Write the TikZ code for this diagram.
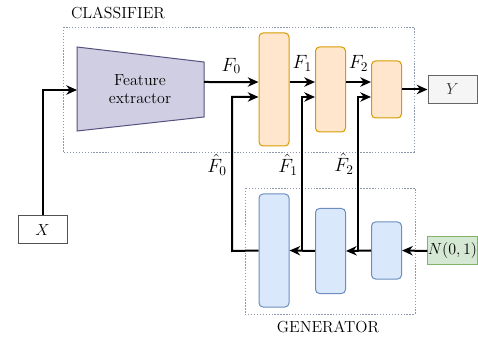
\documentclass[tikz,border=0pt]{standalone}
\usepackage{amsmath}
\usepackage{tikz}
\usetikzlibrary{arrows.meta}
\usetikzlibrary{positioning}

\definecolor{frame}{RGB}{140,152,175}
\definecolor{orangefill}{RGB}{255,230,204}
\definecolor{orangeline}{RGB}{215,155,0}
\definecolor{bluefill}{RGB}{218,232,252}
\definecolor{blueline}{RGB}{108,142,191}
\definecolor{greenfill}{RGB}{213,232,212}
\definecolor{greenline}{RGB}{130,179,102}
\definecolor{purplefill}{RGB}{208,206,226}
\definecolor{purpleline}{RGB}{86,81,126}
\definecolor{greyfill}{RGB}{245,245,245}
\definecolor{greyline}{RGB}{102,102,102}

\tikzset{
	arr/.style = {line width=1.5pt, -{Stealth[length=8pt, width=7pt, inset=2.5pt]}},
	frm/.style = {frame, line width=0.6pt, dash pattern=on 1pt off 1.2pt},
	layer/.style = {rounded corners=3pt, line width=0.75pt, inner sep=0pt, minimum width=22.5pt},
	clslayer/.style = {layer, fill=orangefill, draw=orangeline},
	genlayer/.style = {layer, fill=bluefill, draw=blueline},
	io/.style = {line width=0.75pt, inner sep=0pt, minimum height=21pt, minimum width=36.75pt, font=\large}
}

\begin{document}
\begin{tikzpicture}[x=0.75pt, y=-0.75pt]
			\useasboundingbox (0,0) rectangle (478,338);

			% frames
			\draw[frm] (63,27) rectangle (414,152);
			\draw[frm] (245,188) rectangle (415,314);
			\node[font=\large] (clf) at (118,13) {CLASSIFIER};
			\node[font=\large] (gen) at (328,327) {GENERATOR};

			% feature extractor
			\draw[fill=purplefill, draw=purpleline, line width=0.75pt] (77,47) -- (204,62) -- (204,117) -- (77,131) -- cycle;
			\node[align=center, font=\large] (fe) at (140,89) {Feature\\extractor};
			\coordinate (fe-in) at (77,90);
			\coordinate (fe-out) at (204,82);

			\begin{scope}[every node/.style={clslayer}]
				\node[minimum height=84.75pt] (c1) at (274,89.5) {};
				\node[minimum height=63.75pt] (c2) at (330.5,89.5) {};
				\node[minimum height=42.75pt] (c3) at (386.5,89.5) {};
			\end{scope}
			\begin{scope}[every node/.style={genlayer}]
				\node[minimum height=84.75pt] (g1) at (274,250.5) {};
				\node[minimum height=63.75pt] (g2) at (330.5,251) {};
				\node[minimum height=42.75pt] (g3) at (386.5,250.5) {};
			\end{scope}

			\node[io, draw=greyline!80!black, fill=white] (X) at (42.5,230) {$X$};
			\node[io, draw=greyline, fill=greyfill, text=black!80] (Y) at (452.5,89.5) {$Y$};
			\node[io, draw=greenline, fill=greenfill] (N) at (452.5,251) {$N(0,1)$};

			\coordinate (b0) at (232,251);
			\coordinate (b1) at (302,251);
			\coordinate (b2) at (358,251);

			% classifier path
			\draw[arr] (X.north) |- (fe-in);
			\draw[arr] (fe-out) -- ([yshift=5.6pt]c1.west) node[midway, above=2pt, font=\Large] (f0) {$F_0$};
			\draw[arr] ([yshift=5.6pt]c1.east) -- ([yshift=5.6pt]c2.west) node[midway, above=4pt, font=\Large] (f1) {$F_1$};
			\draw[arr] ([yshift=5.6pt]c2.east) -- ([yshift=5.6pt]c3.west) node[midway, above=4pt, font=\Large] (f2) {$F_2$};
			\draw[arr] (c3.east) -- (Y.west);

			% generator path
			\draw[arr] (N.west) -- (g3.east);
			\draw[arr] (g3.west) -- (g2.east);
			\draw[arr] (g2.west) -- (g1.east);
			\draw[arr] (g1.west) -- (b0) |- ([yshift=-5.6pt]c1.west);
			\draw[arr] (b1) |- ([yshift=-5.6pt]c2.west);
			\draw[arr] (b2) |- ([yshift=-5.6pt]c3.west);

			\node[font=\Large] (h0) at (217,165) {$\hat{F}_0$};
			\node[font=\Large] (h1) at (288,165) {$\hat{F}_1$};
			\node[font=\Large] (h2) at (344,164) {$\hat{F}_2$};
		\end{tikzpicture}
\end{document}
